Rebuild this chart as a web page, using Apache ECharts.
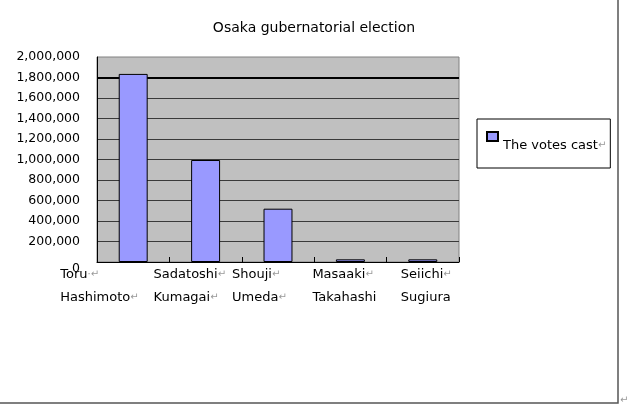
<!DOCTYPE html>
<html>
<head>
<meta charset="utf-8">
<script src="https://cdn.jsdelivr.net/npm/echarts@6/dist/echarts.min.js"></script>
<style>
  html, body { margin: 0; padding: 0; background: #fff; }
  #chart { width: 640px; height: 420px; }
</style>
</head>
<body>
<div id="chart"></div>
<script>
const title = 'Osaka gubernatorial election'
const seriesName = 'The votes cast'
const categories = ['Toru Hashimoto', 'Sadatoshi Kumagai', 'Shouji Umeda', 'Masaaki Takahashi', 'Seiichi Sugiura']
const firstNames = ['Toru', 'Sadatoshi', 'Shouji', 'Masaaki', 'Seiichi']
const lastNames = ['Hashimoto', 'Kumagai', 'Umeda', 'Takahashi', 'Sugiura']
const firstMarks = ['·↵', '↵', '↵', '↵', '↵']
const lastMarks = ['↵', '↵', '↵', '', '']
const votes = [1835000, 995000, 520000, 26000, 26000]
const yMin = 0
const yMax = 2000000
const yStep = 200000
const heavyLine = 1800000

// where each two-line label starts, relative to its category centre
const labelShift = [-73, -52, -46, -38, -22]

const font = 'DejaVu Sans'

const labelText = (value, index) => {
  let top = `{t|${firstNames[index]}}`
  if (firstMarks[index]) top += `{g|${firstMarks[index]}}`
  let bottom = `{t|${lastNames[index]}}`
  if (lastMarks[index]) bottom += `{g|${lastMarks[index]}}`
  return `${top}\n${bottom}`
}

;(() => {
  const chart = echarts.init(document.getElementById('chart'))
  const option = {
    animation: false,
    textStyle: { fontFamily: font },
    title: {
      text: title,
      left: 314,
      top: 21,
      padding: 0,
      textAlign: 'center',
      textStyle: { fontSize: 14, fontWeight: 'normal', color: '#000', fontFamily: font },
    },
    legend: {
      data: [seriesName],
      left: 477,
      top: 119,
      orient: 'vertical',
      padding: [12, 4, 16, 9],
      borderColor: '#000',
      borderWidth: 1,
      itemWidth: 11,
      itemHeight: 9,
      itemGap: 0,
      icon: 'rect',
      formatter: (name) => `{n|${name}}{m|↵}`,
      textStyle: {
        fontSize: 13,
        color: '#000',
        padding: [18, 0, 0, 0],
        fontFamily: font,
        rich: {
          n: { fontSize: 13, color: '#000', fontFamily: font },
          m: { fontSize: 10, color: '#999', fontFamily: font },
        },
      },
    },
    grid: {
      left: 97,
      top: 57,
      width: 362,
      height: 205,
      show: true,
      backgroundColor: '#c0c0c0',
      borderColor: '#808080',
      borderWidth: 1,
      outerBoundsMode: 'none',
    },
    xAxis: {
      type: 'category',
      data: categories.map((name, i) => ({
        value: name,
        textStyle: { width: -2 * labelShift[i] },
      })),
      axisLine: { lineStyle: { color: '#000', width: 1 } },
      axisTick: { show: true, inside: true, length: 5, lineStyle: { color: '#000' } },
      axisLabel: {
        interval: 0,
        align: 'center',
        verticalAlign: 'top',
        margin: 1,
        overflow: 'none',
        formatter: labelText,
        rich: {
          t: { fontSize: 13, color: '#000', lineHeight: 23, align: 'left', fontFamily: font },
          g: { fontSize: 10, color: '#999', lineHeight: 23, align: 'left', fontFamily: font },
        },
      },
    },
    yAxis: {
      type: 'value',
      min: yMin,
      max: yMax,
      interval: yStep,
      axisLine: { show: true, lineStyle: { color: '#000', width: 1 } },
      axisTick: { show: false },
      splitLine: { show: true, showMaxLine: false, lineStyle: { color: '#3a3a3a', width: 1 } },
      axisLabel: {
        margin: 17,
        fontSize: 12.5,
        color: '#000',
        formatter: (v) => (v === 0 ? '{z|0}' : v.toLocaleString('en-US')),
        rich: { z: { fontSize: 12.5, color: '#000', padding: [14, 0, 0, 0] } },
      },
    },
    series: [
      {
        name: seriesName,
        type: 'bar',
        data: votes,
        barWidth: '40%',
        itemStyle: { color: '#9999ff', borderColor: '#000', borderWidth: 1 },
        markLine: {
          silent: true,
          z: 1,
          symbol: 'none',
          label: { show: false },
          lineStyle: { color: '#000', width: 2, type: 'solid' },
          data: [{ yAxis: heavyLine }],
        },
      },
    ],
    graphic: [
      {
        type: 'rect',
        shape: { x: -5, y: -5, width: 623, height: 408 },
        style: { fill: 'none', stroke: '#555', lineWidth: 1.5 },
        silent: true,
      },
      {
        type: 'text',
        left: 620,
        top: 395,
        style: { text: '↵', fill: '#999', font: '10px DejaVu Sans' },
        silent: true,
      },
    ],
  }
  chart.setOption(option)
})()
</script>
</body>
</html>
